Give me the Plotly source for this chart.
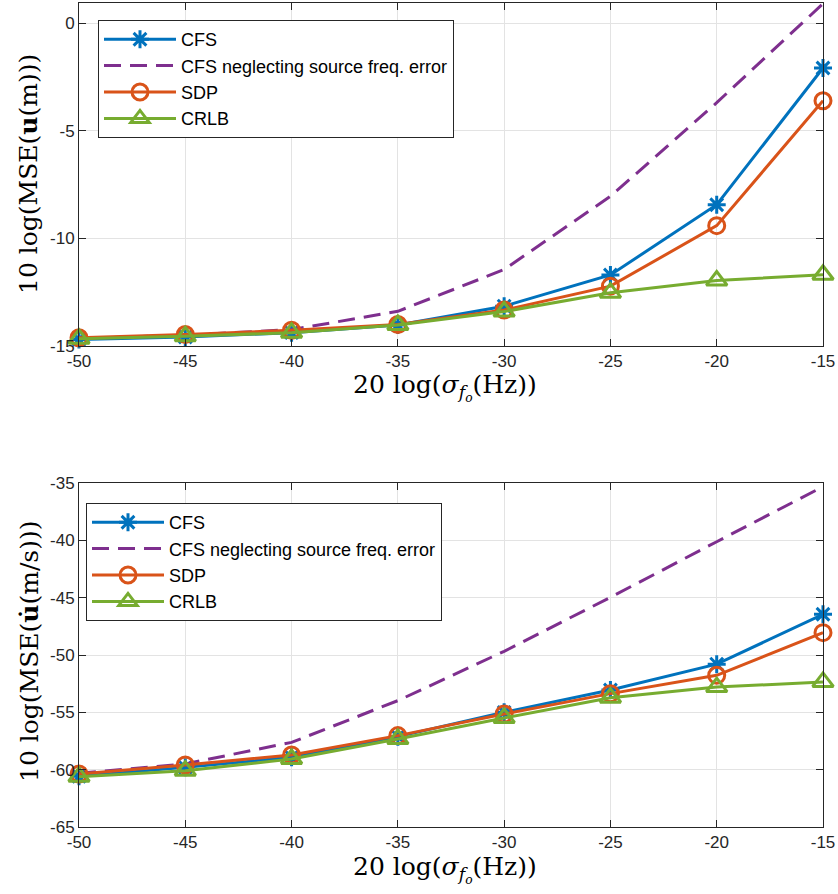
import plotly.graph_objects as go

# ---------------- data ----------------
x_vals = [-50, -45, -40, -35, -30, -25, -20, -15]

# top panel: 10 log(MSE(u))
top_cfs = [-14.70, -14.58, -14.38, -14.02, -13.15, -11.70, -8.44, -2.09]
top_neglect = [-14.65, -14.50, -14.24, -13.39, -11.45, -8.05, -3.70, 0.90]
top_sdp = [-14.62, -14.47, -14.27, -14.00, -13.33, -12.22, -9.41, -3.61]
top_crlb = [-14.66, -14.55, -14.38, -14.02, -13.40, -12.53, -11.96, -11.69]

# bottom panel: 10 log(MSE(u dot))
bot_cfs = [-60.58, -59.80, -58.92, -57.12, -55.00, -53.05, -50.80, -46.45]
bot_neglect = [-60.32, -59.50, -57.62, -53.98, -49.68, -44.97, -40.12, -35.32]
bot_sdp = [-60.38, -59.59, -58.72, -57.03, -55.15, -53.37, -51.77, -48.05]
bot_crlb = [-60.61, -60.09, -59.07, -57.33, -55.49, -53.72, -52.80, -52.35]

x_ticks = [-50, -45, -40, -35, -30, -25, -20, -15]
x_ticktext = ["-50", "-45", "-40", "-35", "-30", "-25", "-20", "-15"]
top_yticks = [-15, -10, -5, 0]
top_yticktext = ["-15", "-10", "-5", "0"]
bot_yticks = [-65, -60, -55, -50, -45, -40, -35]
bot_yticktext = ["-65", "-60", "-55", "-50", "-45", "-40", "-35"]

names = ["CFS", "CFS neglecting source freq. error", "SDP", "CRLB"]

# ---------------- style ----------------
C_BLUE = "#0072BD"
C_ORANGE = "#D95319"
C_PURPLE = "#7E2F8E"
C_GREEN = "#77AC30"
LW = 3
AX = "#262626"
GRID = "#e3e3e3"
SANS = "Liberation Sans, Arial, sans-serif"
TICKFONT = dict(family=SANS, size=17, color=AX)
SERIF = "DejaVu Serif, serif"

fig = go.Figure()


def add_panel(xa, ya, legend, cfs, neg, sdp, crlb):
    fig.add_trace(go.Scatter(
        x=x_vals, y=cfs, name=names[0], mode="lines+markers",
        xaxis=xa, yaxis=ya, legend=legend, cliponaxis=False,
        line=dict(color=C_BLUE, width=LW),
        marker=dict(symbol="asterisk-open", size=15, color=C_BLUE,
                    line=dict(color=C_BLUE, width=3))))
    fig.add_trace(go.Scatter(
        x=x_vals, y=neg, name=names[1], mode="lines",
        xaxis=xa, yaxis=ya, legend=legend,
        line=dict(color=C_PURPLE, width=LW, dash="17px,9px")))
    fig.add_trace(go.Scatter(
        x=x_vals, y=sdp, name=names[2], mode="lines+markers",
        xaxis=xa, yaxis=ya, legend=legend, cliponaxis=False,
        line=dict(color=C_ORANGE, width=LW),
        marker=dict(symbol="circle-open", size=16, color=C_ORANGE,
                    line=dict(color=C_ORANGE, width=3))))
    fig.add_trace(go.Scatter(
        x=x_vals, y=crlb, name=names[3], mode="lines+markers",
        xaxis=xa, yaxis=ya, legend=legend, cliponaxis=False,
        line=dict(color=C_GREEN, width=LW),
        marker=dict(symbol="triangle-up-open", size=18, color=C_GREEN,
                    line=dict(color=C_GREEN, width=3))))


add_panel("x", "y", "legend", top_cfs, top_neglect, top_sdp, top_crlb)
add_panel("x2", "y2", "legend2", bot_cfs, bot_neglect, bot_sdp, bot_crlb)

W, H = 838, 894
L, R, T, B = 79, 15, 3, 67
PW = W - L - R
PH = H - T - B


def py(pix):
    return (H - B - pix) / PH


def px(pix):
    return (pix - L) / PW


axis_common = dict(
    showline=True, linecolor=AX, linewidth=1, mirror="ticks",
    ticks="inside", ticklen=7, tickcolor=AX, tickwidth=1,
    showgrid=True, gridcolor=GRID, gridwidth=1, zeroline=False,
    tickfont=TICKFONT, tickmode="array",
)

legend_common = dict(
    xanchor="left", yanchor="top",
    bgcolor="white", bordercolor=AX, borderwidth=1,
    font=dict(family=SANS, size=18, color="black"),
    tracegroupgap=0, itemwidth=72,
)

fig.update_layout(
    width=W, height=H,
    margin=dict(l=L, r=R, t=T, b=B, autoexpand=False),
    paper_bgcolor="white", plot_bgcolor="white",
    xaxis=dict(domain=[0, 1], range=[-50, -15], anchor="y",
               tickvals=x_ticks, ticktext=x_ticktext, **axis_common),
    yaxis=dict(domain=[py(346), 1], range=[-15, 0.93], anchor="x",
               tickvals=top_yticks, ticktext=top_yticktext, **axis_common),
    xaxis2=dict(domain=[0, 1], range=[-50, -15], anchor="y2",
                tickvals=x_ticks, ticktext=x_ticktext, **axis_common),
    yaxis2=dict(domain=[0, py(483)], range=[-65, -35], anchor="x2",
                tickvals=bot_yticks, ticktext=bot_yticktext, **axis_common),
    legend=dict(x=px(98), y=py(20), **legend_common),
    legend2=dict(x=px(86), y=py(503), **legend_common),
    showlegend=True,
)

xtitle = "20 log(<i>σ</i><sub><i>f<sub>o</sub></i></sub>(Hz))"
ytitle_top = "10 log(MSE(<b>u</b>(m)))"
ytitle_bot = "10 log(MSE(<b>u̇</b>(m/s)))"

ann_font = dict(family=SERIF, size=25, color="black")
fig.add_annotation(text=xtitle, xref="paper", yref="paper", x=px(445), y=py(388),
                   showarrow=False, font=ann_font, xanchor="center", yanchor="middle")
fig.add_annotation(text=xtitle, xref="paper", yref="paper", x=px(445), y=py(869),
                   showarrow=False, font=ann_font, xanchor="center", yanchor="middle")
fig.add_annotation(text=ytitle_top, xref="paper", yref="paper", x=px(29), y=py(174),
                   showarrow=False, font=ann_font, textangle=-90, xanchor="center", yanchor="middle")
fig.add_annotation(text=ytitle_bot, xref="paper", yref="paper", x=px(29), y=py(652),
                   showarrow=False, font=ann_font, textangle=-90, xanchor="center", yanchor="middle")

fig.write_html("out.html")
